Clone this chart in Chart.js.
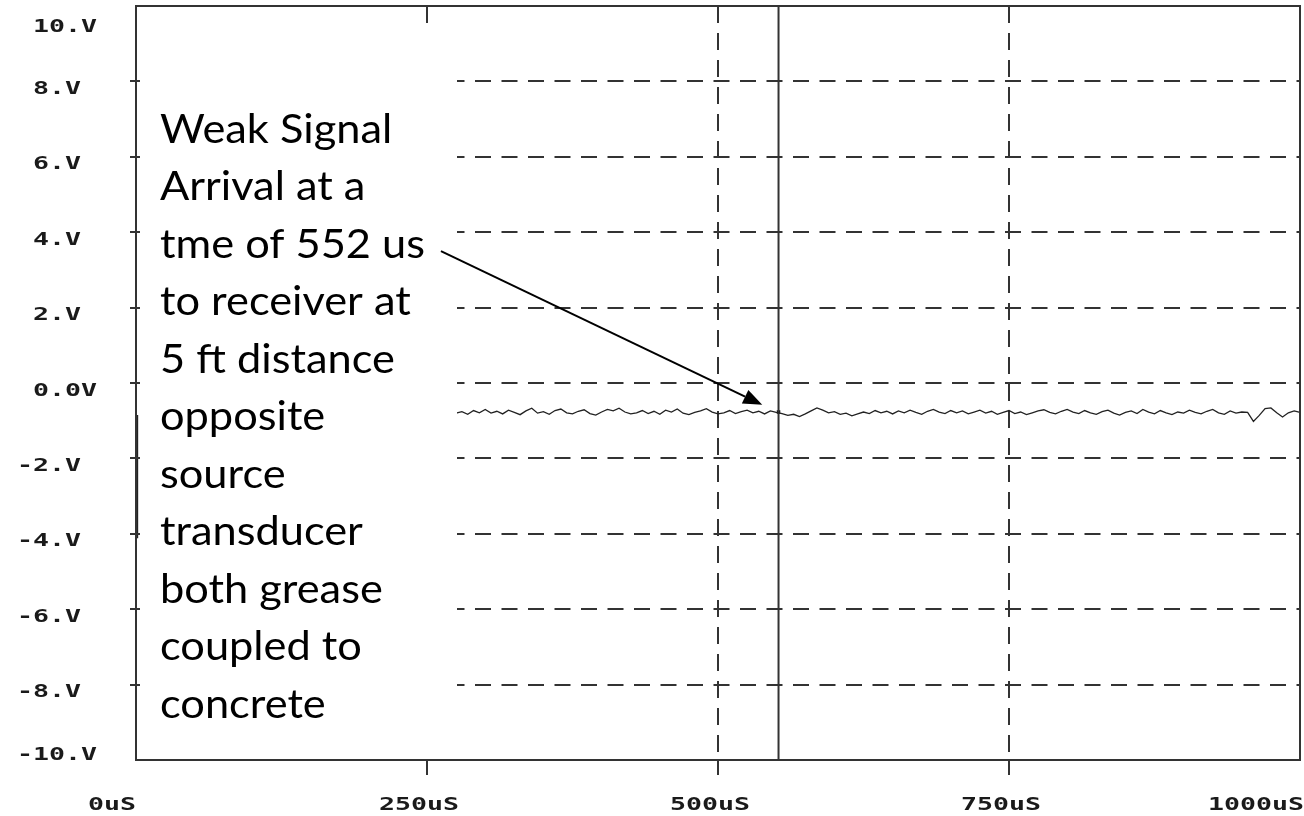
<!DOCTYPE html>
<html>
<head>
<meta charset="utf-8">
<script src="https://cdn.jsdelivr.net/npm/chart.js@4.4.1/dist/chart.umd.min.js"></script>
<style>
html, body { margin: 0; padding: 0; background: #fff; }
canvas { display: block; }
</style>
</head>
<body>
<canvas id="scope" width="1304" height="816"></canvas>
<script>
// Axis ticks: time in microseconds, amplitude in volts
const timeTicksUs = [0, 250, 500, 750, 1000];
const timeTickLabels = ['0uS', '250uS', '500uS', '750uS', '1000uS'];
const voltTicks = [10, 8, 6, 4, 2, 0, -2, -4, -6, -8, -10];
const voltTickLabels = ['10.V', '8.V', '6.V', '4.V', '2.V', '0.0V', '-2.V', '-4.V', '-6.V', '-8.V', '-10.V'];

// Receiver trace, one sample every 5 us starting at 275 us
const traceStartUs = 275;
const traceStepUs = 5;
const traceVolts = [
  -0.80, -0.76, -0.83, -0.73, -0.79, -0.70, -0.80, -0.75, -0.82, -0.72,
  -0.78, -0.84, -0.74, -0.67, -0.80, -0.76, -0.83, -0.73, -0.69, -0.79,
  -0.82, -0.75, -0.71, -0.81, -0.85, -0.77, -0.70, -0.74, -0.67, -0.77,
  -0.82, -0.79, -0.73, -0.81, -0.75, -0.83, -0.72, -0.77, -0.69, -0.80,
  -0.84, -0.78, -0.74, -0.68, -0.77, -0.82, -0.79, -0.73, -0.81, -0.76,
  -0.72, -0.79, -0.75, -0.82, -0.74, -0.78,
  -0.81, -0.86, -0.83, -0.89, -0.82, -0.74, -0.66, -0.72, -0.79, -0.76,
  -0.83, -0.80, -0.87, -0.82, -0.77, -0.81, -0.73, -0.79, -0.75, -0.82,
  -0.74, -0.79, -0.72, -0.78, -0.83, -0.75, -0.70, -0.77, -0.81, -0.73,
  -0.79, -0.74, -0.82, -0.77, -0.72, -0.80, -0.75, -0.83, -0.78, -0.73,
  -0.81, -0.77, -0.84, -0.79, -0.74, -0.71, -0.78, -0.82, -0.75, -0.70,
  -0.77, -0.81, -0.73, -0.79, -0.83, -0.76, -0.72, -0.80, -0.85, -0.78,
  -0.74, -0.81, -0.70, -0.77, -0.82, -0.73, -0.79, -0.84, -0.77, -0.80,
  -0.72, -0.78, -0.82, -0.75, -0.70, -0.79, -0.83, -0.74, -0.80, -0.77,
  -0.78, -1.02, -0.86, -0.68, -0.66, -0.79, -0.90, -0.79, -0.74, -0.78
];

// Excursion at the start of the sweep
const onsetTimeUs = [0.8, 0.8, 0.8];
const onsetVolts = [-0.85, -4.12, -0.85];

// Cursor placed at the arrival time
const cursorTimeUs = 552;
const cursorVolts = -0.77;

// Callout text and arrow end points (time us, volts)
const noteLines = [
  'Weak Signal',
  'Arrival at a',
  'tme of 552 us',
  'to receiver at',
  '5 ft distance',
  'opposite',
  'source',
  'transducer',
  'both grease',
  'coupled to',
  'concrete'
];
const arrowFrom = { t: 262, v: 3.5 };
const arrowTo = { t: 538, v: -0.58 };

const INK = '#333';

const tracePoints = traceVolts.map((v, i) => ({ x: traceStartUs + i * traceStepUs, y: v }));
const onsetPoints = onsetVolts.map((v, i) => ({ x: onsetTimeUs[i], y: v }));

// Draws a string in the scope's wide monospaced style (16 px per character)
function wideText(ctx, str, left, midY) {
  ctx.save();
  ctx.font = 'bold 18px "DejaVu Sans Mono"';
  const adv = ctx.measureText('0').width;
  ctx.translate(left, midY);
  ctx.scale(16 / adv, 1);
  ctx.textAlign = 'left';
  ctx.textBaseline = 'middle';
  ctx.fillStyle = '#1a1a1a';
  ctx.fillText(str, 0, 0);
  ctx.restore();
}

const overlay = {
  id: 'overlay',
  afterDatasetsDraw(chart) {
    const { ctx, chartArea: a, scales: { x, y } } = chart;
    ctx.save();

    // white callout panel over the left part of the plot
    ctx.fillStyle = '#fff';
    ctx.fillRect(a.left + 4, a.top + 24, 317, a.bottom - a.top - 26);

    // callout text
    ctx.font = '41px Lato';
    const sx = 265 / ctx.measureText('tme of 552 us').width;
    ctx.fillStyle = '#000';
    ctx.textBaseline = 'alphabetic';
    noteLines.forEach((line, i) => {
      ctx.save();
      ctx.translate(160, 142.5 + i * 57.5);
      ctx.scale(sx, 1);
      ctx.fillText(line, 0, 0);
      ctx.restore();
    });

    // arrow to the arrival point
    const x0 = x.getPixelForValue(arrowFrom.t), y0 = y.getPixelForValue(arrowFrom.v);
    const x1 = x.getPixelForValue(arrowTo.t), y1 = y.getPixelForValue(arrowTo.v);
    const ang = Math.atan2(y1 - y0, x1 - x0);
    const head = 19, half = 7.5;
    const bx = x1 - head * Math.cos(ang), by = y1 - head * Math.sin(ang);
    ctx.strokeStyle = '#000';
    ctx.lineWidth = 2;
    ctx.beginPath();
    ctx.moveTo(x0, y0);
    ctx.lineTo(bx, by);
    ctx.stroke();
    ctx.fillStyle = '#000';
    ctx.beginPath();
    ctx.moveTo(x1, y1);
    ctx.lineTo(bx + half * Math.sin(ang), by - half * Math.cos(ang));
    ctx.lineTo(bx - half * Math.sin(ang), by + half * Math.cos(ang));
    ctx.closePath();
    ctx.fill();
    ctx.restore();
  },
  afterDraw(chart) {
    const { ctx, chartArea: a, scales: { x, y } } = chart;
    ctx.save();

    // plot frame
    ctx.strokeStyle = INK;
    ctx.lineWidth = 2;
    ctx.strokeRect(a.left, a.top, a.right - a.left, a.bottom - a.top);

    // tick marks
    ctx.beginPath();
    voltTicks.forEach(v => {
      if (v === 10 || v === -10) return;
      const py = Math.round(y.getPixelForValue(v));
      ctx.moveTo(a.left - 6, py);
      ctx.lineTo(a.left + 4, py);
    });
    timeTicksUs.forEach(t => {
      if (t === 0 || t === 1000) return;
      const px = Math.round(x.getPixelForValue(t));
      ctx.moveTo(px, a.bottom);
      ctx.lineTo(px, a.bottom + 15);
      ctx.moveTo(px, a.top);
      ctx.lineTo(px, a.top + 17);
    });
    ctx.stroke();

    // amplitude labels: sign column, then digits
    voltTicks.forEach((v, i) => {
      const lab = voltTickLabels[i];
      const py = Math.min(755, Math.max(27, y.getPixelForValue(v) + 8));
      const left = 17 + (lab.startsWith('-') ? 0 : 16);
      wideText(ctx, lab, left, py);
    });

    // time labels
    timeTicksUs.forEach((t, i) => {
      const lab = timeTickLabels[i];
      const px = x.getPixelForValue(t);
      const left = Math.min(px - 48, chart.width - lab.length * 16);
      wideText(ctx, lab, left, 805);
    });
    ctx.restore();
  }
};

new Chart(document.getElementById('scope'), {
  type: 'scatter',
  data: {
    datasets: [
      {
        label: 'Receiver',
        data: tracePoints,
        showLine: true,
        borderColor: '#222',
        borderWidth: 1.3,
        pointRadius: 0,
        tension: 0
      },
      {
        label: 'Onset',
        data: onsetPoints,
        showLine: true,
        borderColor: '#222',
        borderWidth: 2.5,
        pointRadius: 0
      },
      {
        label: 'Cursor',
        data: [{ x: cursorTimeUs, y: -10 }, { x: cursorTimeUs, y: 10 }],
        showLine: true,
        borderColor: INK,
        borderWidth: 2,
        pointRadius: 0
      },
      {
        label: 'Cursor point',
        data: [{ x: cursorTimeUs, y: cursorVolts }],
        pointStyle: 'rect',
        pointRadius: 2.5,
        backgroundColor: '#111',
        borderColor: '#111',
        borderWidth: 0
      }
    ]
  },
  options: {
    responsive: false,
    animation: false,
    layout: { padding: { left: 136, top: 6, right: 3, bottom: 56 } },
    plugins: { legend: { display: false }, tooltip: { enabled: false } },
    scales: {
      x: {
        type: 'linear',
        min: 0,
        max: 1000,
        afterBuildTicks: axis => { axis.ticks = timeTicksUs.map(v => ({ value: v })); },
        ticks: { display: false },
        grid: {
          drawTicks: false,
          lineWidth: 2,
          color: c => (c.tick && (c.tick.value === 500 || c.tick.value === 750)) ? INK : 'rgba(0,0,0,0)',
          borderDash: [17, 10],
          borderDashOffset: 0
        },
        border: { display: false, dash: [17, 10], dashOffset: 0 }
      },
      y: {
        type: 'linear',
        min: -10,
        max: 10,
        afterBuildTicks: axis => { axis.ticks = voltTicks.map(v => ({ value: v })); },
        ticks: { display: false },
        grid: {
          drawTicks: false,
          lineWidth: 2,
          color: c => (c.tick && Math.abs(c.tick.value) !== 10) ? INK : 'rgba(0,0,0,0)',
          borderDash: [16, 10.5],
          borderDashOffset: 5.5
        },
        border: { display: false, dash: [16, 10.5], dashOffset: 5.5 }
      }
    }
  },
  plugins: [overlay]
});
</script>
</body>
</html>
